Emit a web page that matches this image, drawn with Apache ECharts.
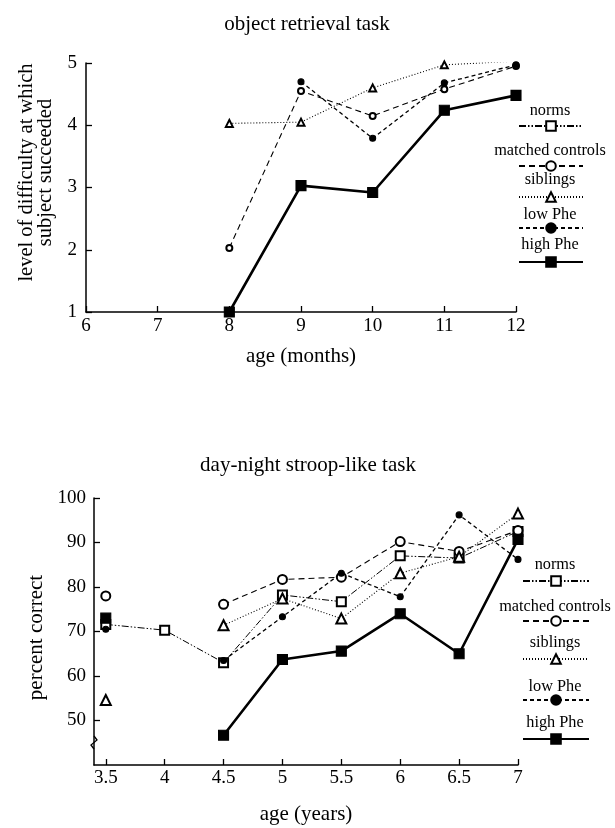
<!DOCTYPE html>
<html>
<head>
<meta charset="utf-8">
<script src="https://cdn.jsdelivr.net/npm/echarts@6/dist/echarts.min.js"></script>
<style>html,body{margin:0;padding:0;background:#fff;}#c{width:615px;height:828px;}</style>
</head>
<body>
<div id="c"></div>
<script>
// ---------- DATA ----------
const seriesNames = ['norms', 'matched controls', 'siblings', 'low Phe', 'high Phe'];

// Top chart: object retrieval task (age in months)
const monthsAges = [6, 7, 8, 9, 10, 11, 12];
const orNorms    = [null, null, null, null, null, null, null];
const orMatched  = [null, null, 2.03, 4.55, 4.15, 4.58, 4.95];
const orSiblings = [null, null, 4.03, 4.05, 4.60, 4.97, 5.03];
const orLowPhe   = [null, null, null, 4.70, 3.79, 4.68, 4.97];
const orHighPhe  = [null, null, 1.00, 3.03, 2.92, 4.24, 4.48];
const orYTicks = [1, 2, 3, 4, 5];
const orXTicks = [6, 7, 8, 9, 10, 11, 12];

// Bottom chart: day-night stroop-like task (age in years)
const yearsAges  = [3.5, 4, 4.5, 5, 5.5, 6, 6.5, 7];
const dnNorms    = [71.6, 70.3, 63.0, 78.2, 76.7, 87.0, 86.5, 92.5];
const dnMatched  = [78.0, null, 76.1, 81.7, 82.2, 90.2, 88.0, 92.7];
const dnSiblings = [54.6, null, 71.4, 77.4, 72.9, 83.1, 86.8, 96.5];
const dnLowPhe   = [70.5, null, 63.5, 73.3, 83.1, 77.8, 96.2, 86.2];
const dnHighPhe  = [73.0, null, 46.7, 63.7, 65.6, 74.0, 65.0, 90.7];
const dnYTicks = [50, 60, 70, 80, 90, 100];
const dnXTicks = [3.5, 4, 4.5, 5, 5.5, 6, 6.5, 7];

// ---------- STYLES ----------
const FONT = 'Liberation Serif';
const styles = {
  'norms':            {type: [7, 2, 1.5, 2, 1.5, 2], width: 1, symbol: 'emptyRect', size: 9, sizeTop: 7},
  'matched controls': {type: [6, 4], width: 1.1, symbol: 'emptyCircle', size: 9, sizeTop: 6},
  'siblings':         {type: [1, 2], width: 1.1, symbol: 'emptyTriangle', size: 10, sizeTop: 7},
  'low Phe':          {type: [4, 3], width: 1.3, symbol: 'circle', size: 6, sizeTop: 6},
  'high Phe':         {type: 'solid', width: 2.6, symbol: 'rect', size: 10, sizeTop: 10}
};

function pairs(xs, ys) { return xs.map((x, i) => [x, ys[i]]); }

function mkSeries(name, xs, ys, idx) {
  const s = styles[name];
  return {
    type: 'line', name: name,
    xAxisIndex: idx, yAxisIndex: idx,
    data: pairs(xs, ys),
    connectNulls: false,
    showSymbol: true,
    symbol: s.symbol,
    symbolSize: idx === 0 ? s.sizeTop : s.size,
    lineStyle: {color: '#000', width: s.width, type: s.type},
    itemStyle: {color: '#000', borderColor: '#000', borderWidth: 1.1},
    emphasis: {disabled: true},
    animation: false
  };
}

const series = [
  mkSeries('norms', monthsAges, orNorms, 0),
  mkSeries('matched controls', monthsAges, orMatched, 0),
  mkSeries('siblings', monthsAges, orSiblings, 0),
  mkSeries('low Phe', monthsAges, orLowPhe, 0),
  mkSeries('high Phe', monthsAges, orHighPhe, 0),
  mkSeries('norms', yearsAges, dnNorms, 1),
  mkSeries('matched controls', yearsAges, dnMatched, 1),
  mkSeries('siblings', yearsAges, dnSiblings, 1),
  mkSeries('low Phe', yearsAges, dnLowPhe, 1),
  mkSeries('high Phe', yearsAges, dnHighPhe, 1)
];

const axisLine = {show: true, onZero: false, lineStyle: {color: '#000', width: 1.5}};
const tick = {show: true, inside: true, length: 6, lineStyle: {color: '#000', width: 1.3}};
const tickLabel = {color: '#000', fontFamily: FONT, fontSize: 19};
const nameStyle = {color: '#000', fontFamily: FONT, fontSize: 21, lineHeight: 21};

// legend: icons via legend components, text via graphic
const legendTop = {cx: 550, text: [111, 151, 180, 215, 245], line: [126, 166, 197, 228, 262], w: 64};
const legendBot = {cx: 555, text: [565, 607, 643, 687, 723], line: [581, 621, 659, 700, 739], w: 66};
const legends = [];
const graphics = [];
[legendTop, legendBot].forEach(L => {
  seriesNames.forEach((n, i) => {
    legends.push({
      data: [n], left: L.cx - L.w / 2, top: L.line[i] - 6,
      itemWidth: L.w, itemHeight: 12, itemGap: 0, padding: 0,
      formatter: () => '', selectedMode: false,
      textStyle: {fontSize: 1}
    });
    graphics.push({
      type: 'text',
      style: {text: n, x: L.cx, y: L.text[i], fontFamily: FONT, fontSize: 16.3, fill: '#000',
              textAlign: 'center', textVerticalAlign: 'middle'}
    });
  });
});
// y-axis break mark on bottom chart
graphics.push({
  type: 'polyline', shape: {points: [[94, 736], [97, 740], [91, 745], [94, 749]]},
  style: {stroke: '#000', lineWidth: 1.3, fill: null}
});

const option = {
  backgroundColor: '#fff',
  animation: false,
  title: [
    {text: 'object retrieval task', left: 302, top: 9, textAlign: 'center',
     textStyle: {fontFamily: FONT, fontSize: 21, fontWeight: 'normal', color: '#000'}},
    {text: 'day-night stroop-like task', left: 303, top: 450, textAlign: 'center',
     textStyle: {fontFamily: FONT, fontSize: 21, fontWeight: 'normal', color: '#000'}}
  ],
  grid: [
    {left: 86, top: 63, width: 430, height: 249, containLabel: false},
    {left: 94, top: 498, width: 424, height: 267, containLabel: false}
  ],
  xAxis: [
    {gridIndex: 0, type: 'value', min: 6, max: 12, interval: 1,
     name: 'age (months)', nameLocation: 'middle', nameGap: 34, nameTextStyle: nameStyle,
     axisLine: axisLine, axisTick: tick,
     axisLabel: Object.assign({margin: 5, customValues: orXTicks}, tickLabel),
     splitLine: {show: false}},
    {gridIndex: 1, type: 'value', min: 3.4, max: 7,
     name: 'age (years)', nameLocation: 'middle', nameGap: 39, nameTextStyle: nameStyle,
     axisLine: axisLine,
     axisTick: Object.assign({customValues: dnXTicks}, tick),
     axisLabel: Object.assign({margin: 4, customValues: dnXTicks}, tickLabel),
     splitLine: {show: false}}
  ],
  yAxis: [
    {gridIndex: 0, type: 'value', min: 1, max: 5, interval: 1,
     name: 'level of difficulty at which\nsubject succeeded', nameLocation: 'middle', nameGap: 29,
     nameRotate: 90,
     nameTextStyle: Object.assign({}, nameStyle, {fontSize: 20.5, lineHeight: 19, padding: [0, 0, 0, 30]}),
     axisLine: axisLine, axisTick: tick,
     axisLabel: Object.assign({margin: 9, customValues: orYTicks}, tickLabel),
     splitLine: {show: false}},
    {gridIndex: 1, type: 'value', min: 40, max: 100, interval: 10,
     name: 'percent correct', nameLocation: 'middle', nameGap: 46,
     nameRotate: 90,
     nameTextStyle: Object.assign({}, nameStyle, {padding: [0, 12, 0, 0]}),
     axisLine: axisLine,
     axisTick: Object.assign({customValues: dnYTicks}, tick),
     axisLabel: Object.assign({margin: 8, customValues: dnYTicks}, tickLabel),
     splitLine: {show: false}}
  ],
  legend: legends,
  graphic: graphics,
  series: series
};

const chart = echarts.init(document.getElementById('c'), null, {renderer: 'canvas'});
chart.setOption(option);
</script>
</body>
</html>
